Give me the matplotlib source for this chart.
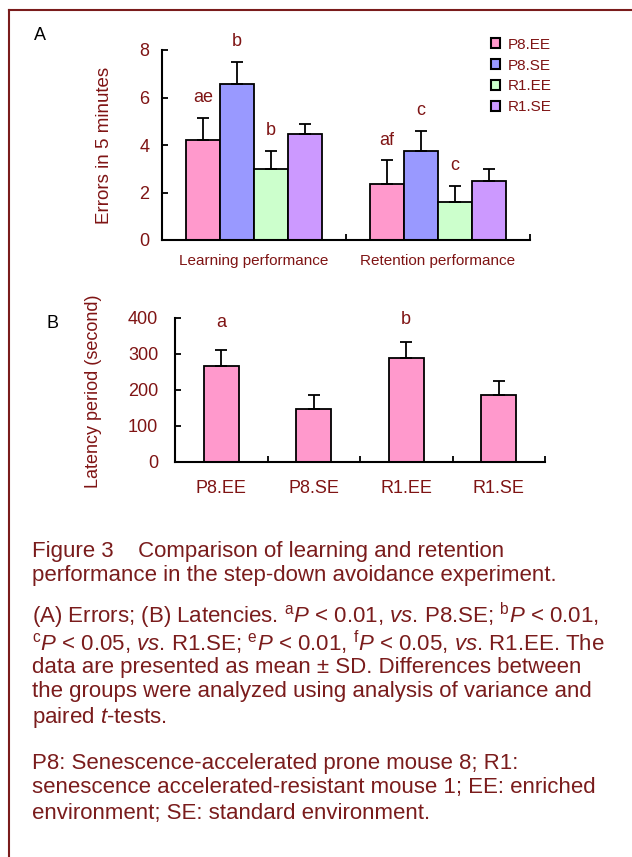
import matplotlib
matplotlib.use("Agg")
import matplotlib.pyplot as plt
from matplotlib.patches import Patch
from matplotlib.lines import Line2D
import numpy as np

plt.rcParams["font.family"] = ["Liberation Sans", "DejaVu Sans"]
plt.rcParams["mathtext.fontset"] = "custom"
plt.rcParams["mathtext.rm"] = "Liberation Sans"
plt.rcParams["mathtext.it"] = "Liberation Sans:italic"

# panel A data
phases = ["Learning performance", "Retention performance"]
groups = ["P8.EE", "P8.SE", "R1.EE", "R1.SE"]
errors_mean = {
    "P8.EE": [4.2, 2.35],
    "P8.SE": [6.56, 3.76],
    "R1.EE": [3.01, 1.58],
    "R1.SE": [4.45, 2.5],
}
errors_sd = {
    "P8.EE": [0.93, 1.0],
    "P8.SE": [0.94, 0.85],
    "R1.EE": [0.75, 0.68],
    "R1.SE": [0.43, 0.51],
}
errors_letters = {
    "P8.EE": ["ae", "af"],
    "P8.SE": ["b", "c"],
    "R1.EE": ["b", "c"],
    "R1.SE": ["", ""],
}

# panel B data
latency_mean = [267, 148, 290, 187]
latency_sd = [43, 37, 43, 37]
latency_letters = ["a", "", "b", ""]
latency_letter_y = [388, 0, 397, 0]

colors = {"P8.EE": "#FF99CC", "P8.SE": "#9999FF", "R1.EE": "#CCFFCC", "R1.SE": "#CC99FF"}
dark = "#7f1414"
cap_col = "#7a1c1c"

W, H = 632, 857
fig = plt.figure(figsize=(W / 100, H / 100), dpi=100)

# ---- panel A ----
axA = fig.add_axes([162 / W, 1 - 240 / H, 368 / W, 190 / H])
x = np.arange(len(phases))
width = 0.184
for i, g in enumerate(groups):
    pos = x + (i - 1.5) * width
    axA.bar(pos, errors_mean[g], width, color=colors[g], edgecolor="black",
            linewidth=1.3, zorder=2)
    axA.errorbar(pos, errors_mean[g], yerr=[np.zeros(len(x)), errors_sd[g]],
                 fmt="none", ecolor="black", elinewidth=1.3, capsize=4.5,
                 capthick=1.3, zorder=3)
    for p, m, s, lab in zip(pos, errors_mean[g], errors_sd[g], errors_letters[g]):
        if lab:
            axA.text(p, m + s + 0.86, lab, ha="center", va="center",
                     fontsize=13, color=dark)

axA.set_xlim(-0.5, 1.5)
axA.set_ylim(0, 8)
axA.set_yticks([0, 2, 4, 6, 8])
axA.set_xticks(x)
axA.set_xticklabels(phases, fontsize=11, color=dark)
axA.set_xticks([-0.5, 0.5, 1.5], minor=True)
axA.tick_params(axis="x", which="major", length=0, pad=10)
axA.tick_params(axis="x", which="minor", direction="in", length=4, width=1.3)
axA.tick_params(axis="y", direction="in", length=4, width=1.3, pad=9,
                labelsize=13, labelcolor=dark)
axA.set_ylabel("Errors in 5 minutes", fontsize=13.5, color=dark)
axA.yaxis.set_label_coords(-0.133, 0.5)
for sp in ["top", "right"]:
    axA.spines[sp].set_visible(False)
for sp in ["left", "bottom"]:
    axA.spines[sp].set_linewidth(1.5)

handles = [Patch(facecolor=colors[g], edgecolor="black", linewidth=1.5) for g in groups]
fig.legend(handles, groups, loc="upper left", bbox_to_anchor=(483 / W, 1 - 30 / H),
           frameon=False, fontsize=11, labelcolor=dark, handlelength=0.6,
           handleheight=0.6, handletextpad=0.5, labelspacing=0.45, borderpad=0)

# ---- panel B ----
axB = fig.add_axes([175 / W, 1 - 462 / H, 370 / W, 144 / H])
xb = np.arange(len(groups))
axB.bar(xb, latency_mean, 0.38, color="#FF99CC", edgecolor="black", linewidth=1.3, zorder=2)
axB.errorbar(xb, latency_mean, yerr=[np.zeros(len(xb)), latency_sd], fmt="none",
             ecolor="black", elinewidth=1.3, capsize=4.5, capthick=1.3, zorder=3)
for xi, lab, ly in zip(xb, latency_letters, latency_letter_y):
    if lab:
        axB.text(xi, ly, lab, ha="center", va="center", fontsize=13, color=dark)
axB.set_xlim(-0.5, 3.5)
axB.set_ylim(0, 400)
axB.set_yticks([0, 100, 200, 300, 400])
axB.set_xticks(xb)
axB.set_xticklabels(groups, fontsize=13, color=dark)
axB.set_xticks([-0.5, 0.5, 1.5, 2.5, 3.5], minor=True)
axB.tick_params(axis="x", which="major", length=0, pad=13)
axB.tick_params(axis="x", which="minor", direction="in", length=4, width=1.3)
axB.tick_params(axis="y", direction="in", length=4, width=1.3, pad=12,
                labelsize=13, labelcolor=dark)
axB.set_ylabel("Latency period (second)", fontsize=13, color=dark)
axB.yaxis.set_label_coords(-0.197, 0.49)
for sp in ["top", "right"]:
    axB.spines[sp].set_visible(False)
for sp in ["left", "bottom"]:
    axB.spines[sp].set_linewidth(1.5)

# panel letters
fig.text(40 / W, 1 - 35 / H, "A", fontsize=13, ha="center", va="center")
fig.text(52 / W, 1 - 323 / H, "B", fontsize=13, ha="center", va="center")

# ---- caption ----
caption = [
    (551, "Figure 3    Comparison of learning and retention"),
    (576, "performance in the step-down avoidance experiment."),
    (616, r"(A) Errors; (B) Latencies. ${}^{\mathrm{a}}\mathit{P}$ < 0.01, $\mathit{vs}$. P8.SE; ${}^{\mathrm{b}}\mathit{P}$ < 0.01,"),
    (643, r"${}^{\mathrm{c}}\mathit{P}$ < 0.05, $\mathit{vs}$. R1.SE; ${}^{\mathrm{e}}\mathit{P}$ < 0.01, ${}^{\mathrm{f}}\mathit{P}$ < 0.05, $\mathit{vs}$. R1.EE. The"),
    (667, "data are presented as mean \u00b1 SD. Differences between"),
    (692, "the groups were analyzed using analysis of variance and"),
    (717, r"paired $\mathit{t}$-tests."),
    (763, "P8: Senescence-accelerated prone mouse 8; R1:"),
    (788, "senescence accelerated-resistant mouse 1; EE: enriched"),
    (813, "environment; SE: standard environment."),
]
for yy, line in caption:
    fig.text(32 / W, 1 - yy / H, line, fontsize=16, color=cap_col, ha="left", va="center")

# frame lines
fig.add_artist(Line2D([8.5 / W, 1], [1 - 9.5 / H, 1 - 9.5 / H], color=cap_col, linewidth=1.5))
fig.add_artist(Line2D([8.5 / W, 8.5 / W], [0, 1 - 9.5 / H], color=cap_col, linewidth=1.5))

fig.savefig("out.png", dpi=100)
